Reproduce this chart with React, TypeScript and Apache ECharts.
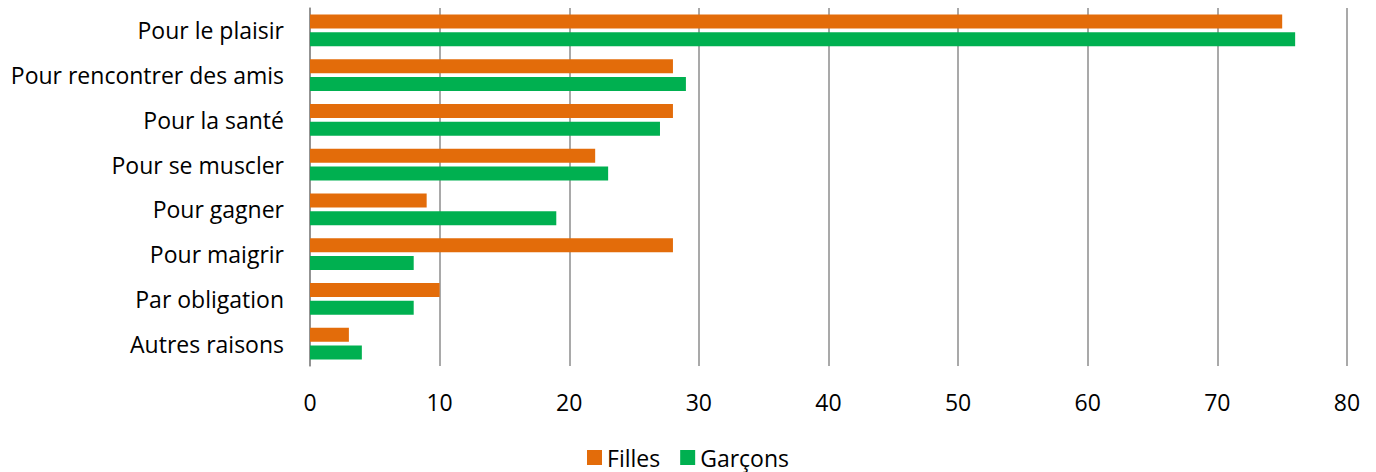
import React, { useEffect, useRef } from "react";
import * as echarts from "echarts";

const categories = [
  "Pour le plaisir",
  "Pour rencontrer des amis",
  "Pour la santé",
  "Pour se muscler",
  "Pour gagner",
  "Pour maigrir",
  "Par obligation",
  "Autres raisons",
];
const filles = [75, 28, 28, 22, 9, 28, 10, 3];
const garcons = [76, 29, 27, 23, 19, 8, 8, 4];
const xTicks = { min: 0, max: 80, interval: 10 };

export default function App() {
  const ref = useRef<HTMLDivElement>(null);
  useEffect(() => {
    if (!ref.current) return;
    const chart = echarts.init(ref.current, undefined, { renderer: "svg" });
    const font = "'Open Sans', sans-serif";
    const fs = 23;
    chart.setOption({
      animation: false,
      textStyle: { fontFamily: font },
      grid: { left: 310, right: 29, top: 8, bottom: 106, containLabel: false },
      legend: {
        bottom: -2,
        left: "center",
        itemWidth: 15,
        itemHeight: 15,
        itemGap: 20,
        icon: "rect",
        textStyle: { fontSize: fs, color: "#000", fontFamily: font },
        data: ["Filles", "Garçons"],
      },
      xAxis: {
        type: "value",
        min: xTicks.min,
        max: xTicks.max,
        interval: xTicks.interval,
        axisLine: { show: false },
        axisTick: { show: false },
        splitLine: { lineStyle: { color: "#8c8c8c", width: 1.5 } },
        axisLabel: { fontSize: fs, color: "#000", margin: 24, fontFamily: font },
      },
      yAxis: {
        type: "category",
        inverse: true,
        data: categories,
        axisLine: { show: true, lineStyle: { color: "#8c8c8c", width: 1.5 } },
        axisTick: { show: false },
        axisLabel: { fontSize: fs, color: "#000", margin: 26, fontFamily: font },
      },
      series: [
        {
          name: "Filles",
          type: "bar",
          data: filles,
          barWidth: 14,
          barGap: "28%",
          itemStyle: { color: "#E36C0A" },
        },
        {
          name: "Garçons",
          type: "bar",
          data: garcons,
          barWidth: 14,
          itemStyle: { color: "#00B050" },
        },
      ],
    });
    return () => chart.dispose();
  }, []);
  return (
    <div
      ref={ref}
      style={{ position: "fixed", left: 0, top: 0, width: 1376, height: 472, background: "#fff" }}
    />
  );
}
